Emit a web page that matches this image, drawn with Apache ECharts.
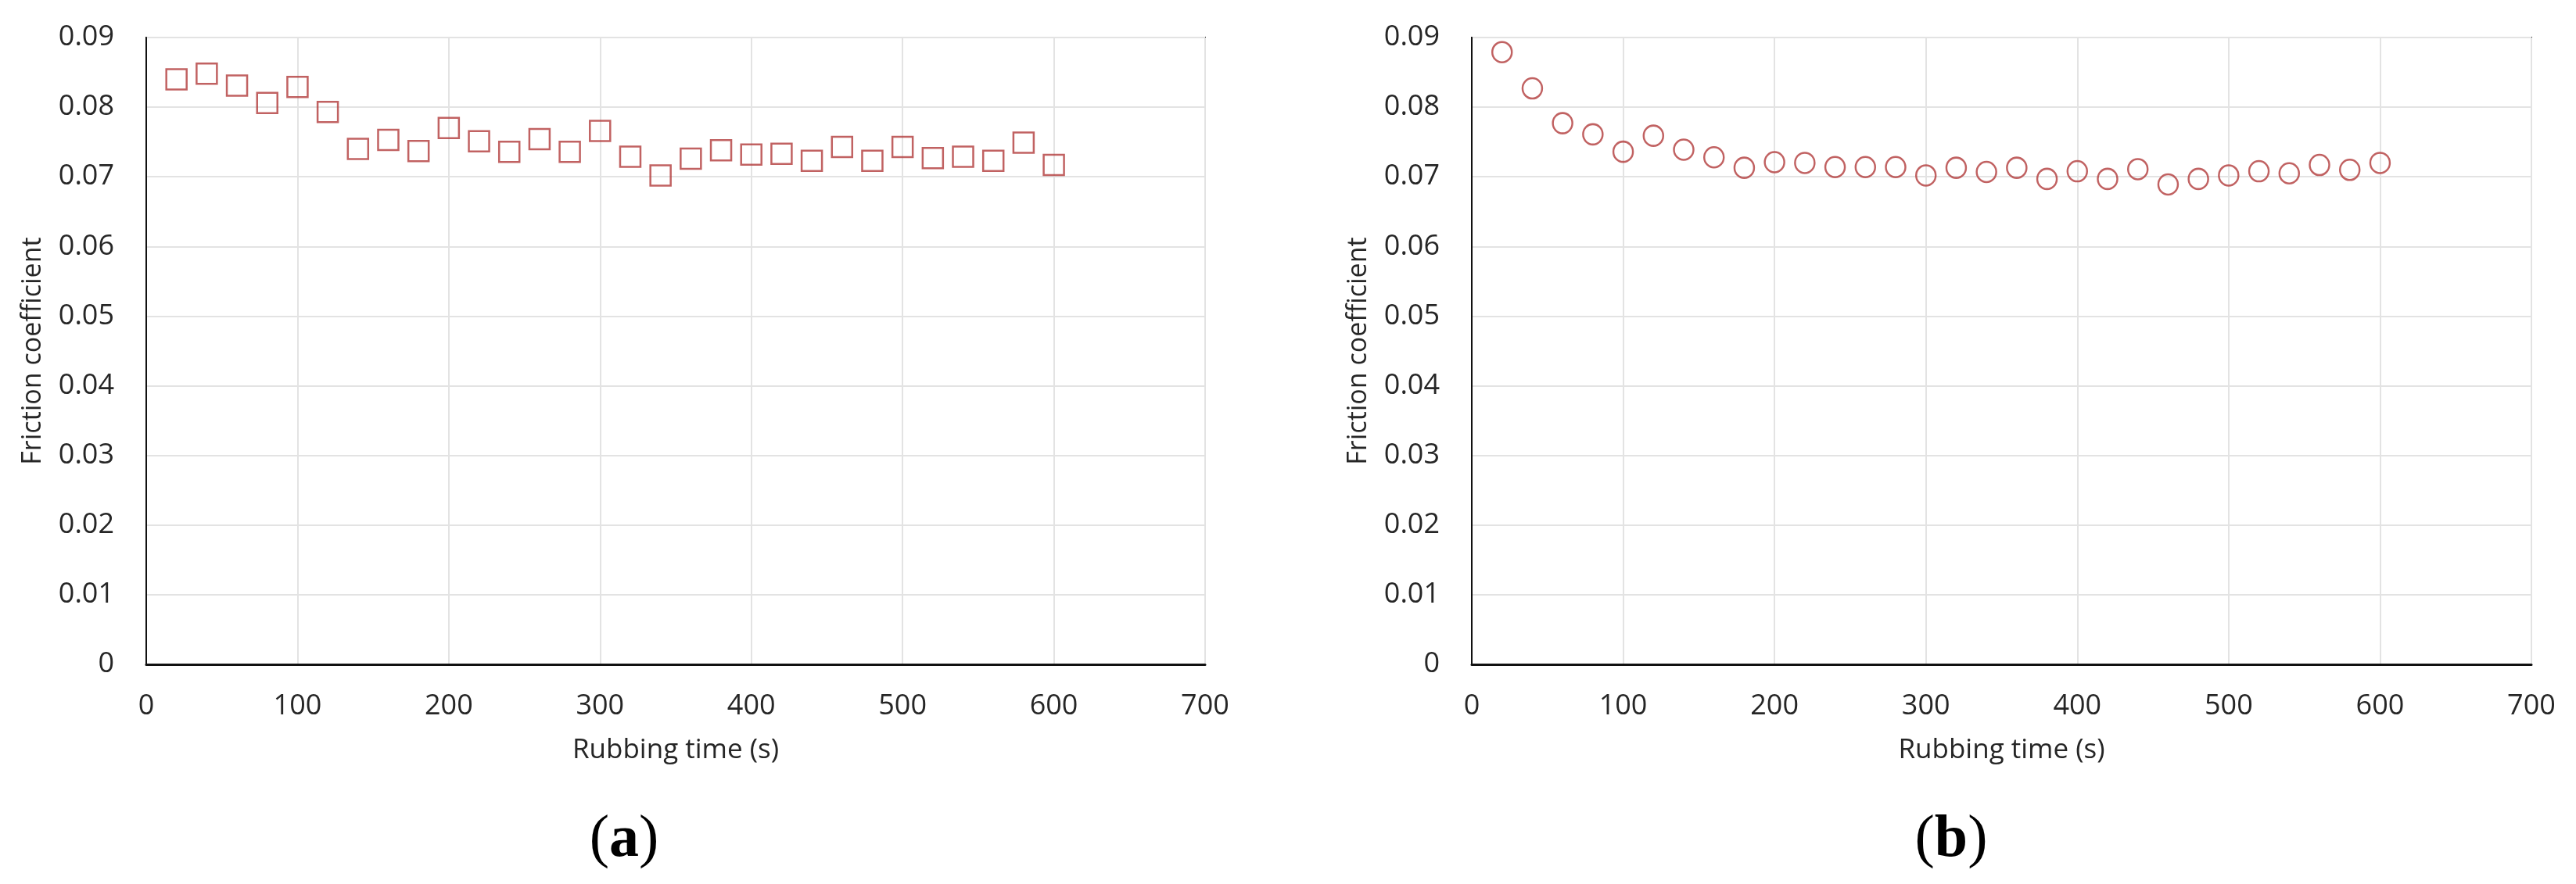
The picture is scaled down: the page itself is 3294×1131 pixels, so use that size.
<!DOCTYPE html>
<html>
<head>
<meta charset="utf-8">
<title>Friction coefficient vs rubbing time</title>
<script src="https://cdn.jsdelivr.net/npm/echarts@6/dist/echarts.min.js"></script>
<style>
  html, body { margin: 0; padding: 0; background: #fff; }
  #chart { width: 3294px; height: 1131px; }
</style>
</head>
<body>
<div id="chart"></div>
<script>
  // rubbing time (s), same for both tests
  var timeS = [20, 40, 60, 80, 100, 120, 140, 160, 180, 200, 220, 240, 260, 280, 300,
               320, 340, 360, 380, 400, 420, 440, 460, 480, 500, 520, 540, 560, 580, 600];
  // (a) square markers
  var frictionA = [0.0840, 0.0848, 0.0831, 0.0806, 0.0829, 0.0793, 0.0740, 0.0753, 0.0737, 0.0770,
                   0.0751, 0.0736, 0.0754, 0.0736, 0.0766, 0.0729, 0.0702, 0.0726, 0.0738, 0.0732,
                   0.0733, 0.0723, 0.0743, 0.0723, 0.0743, 0.0727, 0.0729, 0.0723, 0.0749, 0.0717];
  // (b) circle markers
  var frictionB = [0.0879, 0.0827, 0.0777, 0.0761, 0.0736, 0.0759, 0.0739, 0.0728, 0.0713, 0.0721,
                   0.0720, 0.0714, 0.0714, 0.0714, 0.0702, 0.0713, 0.0707, 0.0713, 0.0697, 0.0708,
                   0.0697, 0.0711, 0.0689, 0.0697, 0.0702, 0.0708, 0.0705, 0.0717, 0.0710, 0.0720];
  var captions = ['a', 'b'];

  var markerColor = '#b23b3b';
  var textColor = '#262626';
  var font = '"Open Sans", "DejaVu Sans", sans-serif';

  function pairs(xs, ys) {
    return xs.map(function (x, i) { return [x, ys[i]]; });
  }

  function makeXAxis(idx) {
    return {
      type: 'value', gridIndex: idx, min: 0, max: 700, interval: 100,
      name: 'Rubbing time (s)', nameLocation: 'middle', nameGap: 93,
      nameTextStyle: { fontFamily: font, fontSize: 35, color: textColor },
      axisLine: { show: true, lineStyle: { color: '#111', width: 3 } },
      axisTick: { show: false },
      axisLabel: { fontFamily: font, fontSize: 36, color: textColor, margin: 36 },
      splitLine: { show: true, lineStyle: { color: '#e3e3e3', width: 2 } }
    };
  }

  function makeYAxis(idx) {
    return {
      type: 'value', gridIndex: idx, min: 0, max: 0.09, interval: 0.01,
      name: 'Friction coefficient', nameLocation: 'middle', nameGap: 128,
      nameTextStyle: { fontFamily: font, fontSize: 34, color: textColor },
      axisLine: { show: true, lineStyle: { color: '#111', width: 2 } },
      axisTick: { show: false },
      axisLabel: {
        fontFamily: font, fontSize: 36, color: textColor, margin: 41,
        formatter: function (v) { return v === 0 ? '0' : v.toFixed(2); }
      },
      splitLine: { show: true, lineStyle: { color: '#e3e3e3', width: 2 } }
    };
  }

  // caption like "(a)": plain parentheses, bold letter
  function makeCaption(letter, x) {
    return {
      text: '{p|(}{b|' + letter + '}{p|)}',
      left: x, top: 1032, textAlign: 'center',
      textStyle: {
        fontWeight: 'normal',
        rich: {
          p: { fontFamily: '"Liberation Serif", serif', fontSize: 76, fontWeight: 'normal', color: '#000' },
          b: { fontFamily: '"Liberation Serif", serif', fontSize: 76, fontWeight: 'bold', color: '#000' }
        }
      }
    };
  }

  var chart = echarts.init(document.getElementById('chart'));
  var option = {
    backgroundColor: '#fff',
    animation: false,
    title: [makeCaption(captions[0], 793), makeCaption(captions[1], 2490)],
    grid: [
      { left: 187, top: 48, width: 1354, height: 802, show: true, borderColor: '#111', borderWidth: 2, containLabel: false },
      { left: 1882, top: 48, width: 1355, height: 802, show: true, borderColor: '#111', borderWidth: 2, containLabel: false }
    ],
    xAxis: [makeXAxis(0), makeXAxis(1)],
    yAxis: [makeYAxis(0), makeYAxis(1)],
    series: [
      {
        name: 'a', type: 'scatter', xAxisIndex: 0, yAxisIndex: 0,
        symbol: 'rect', symbolSize: [26, 26],
        itemStyle: { color: 'rgba(255,255,255,0)', borderColor: markerColor, borderWidth: 2.5 },
        data: pairs(timeS, frictionA)
      },
      {
        name: 'b', type: 'scatter', xAxisIndex: 1, yAxisIndex: 1,
        symbol: 'circle', symbolSize: [25, 26],
        itemStyle: { color: 'rgba(255,255,255,0)', borderColor: markerColor, borderWidth: 2.5 },
        data: pairs(timeS, frictionB)
      }
    ]
  };
  chart.setOption(option);
</script>
</body>
</html>
